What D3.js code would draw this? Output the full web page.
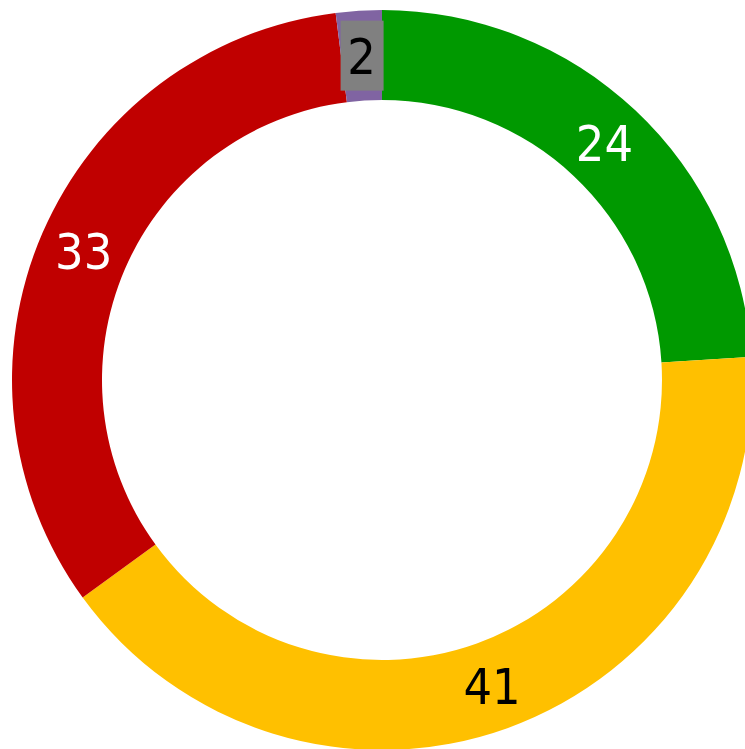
<!DOCTYPE html>
<html>
<head>
<meta charset="utf-8">
<script src="https://d3js.org/d3.v7.min.js"></script>
<style>
  html, body { margin: 0; padding: 0; background: #fff; overflow: hidden; }
  text { font-family: "DejaVu Sans Condensed", "DejaVu Sans", sans-serif; }
</style>
</head>
<body>
<div id="chart"></div>
<script>
// slice data, clockwise from 12 o'clock
var categories = ["A", "B", "C", "D"];
var values = [24, 41, 33, 2];
var colors = ["#009900", "#FFC000", "#C00000", "#8064A2"];
var labelColors = ["#ffffff", "#000000", "#ffffff", "#000000"];
var labelBoxes = [null, null, null, "#808080"];

var width = 745, height = 749;
var cx = 382, cy = 380;
var outerR = 370, innerR = 280;

var svg = d3.select("#chart").append("svg")
    .attr("width", width)
    .attr("height", height);

var g = svg.append("g")
    .attr("transform", "translate(" + cx + "," + cy + ")");

var data = categories.map(function (c, i) { return { key: c, value: values[i], i: i }; });

var pie = d3.pie()
    .value(function (d) { return d.value; })
    .sort(null);

var arc = d3.arc()
    .innerRadius(innerR)
    .outerRadius(outerR);

var arcs = pie(data);

g.selectAll("path")
  .data(arcs)
  .enter()
  .append("path")
    .attr("d", arc)
    .attr("fill", function (d) { return colors[d.data.i]; });

var labels = g.selectAll("g.lbl")
  .data(arcs)
  .enter()
  .append("g")
    .attr("class", "lbl")
    .attr("transform", function (d) {
      var c = arc.centroid(d);
      return "translate(" + c[0] + "," + c[1] + ")";
    });

// grey box behind the tiny slice label
labels.filter(function (d) { return labelBoxes[d.data.i]; })
  .append("rect")
    .attr("x", -21)
    .attr("y", -35)
    .attr("width", 43)
    .attr("height", 70)
    .attr("fill", function (d) { return labelBoxes[d.data.i]; });

labels.append("text")
    .attr("text-anchor", "middle")
    .attr("dy", "0.36em")
    .attr("font-size", 50)
    .attr("fill", function (d) { return labelColors[d.data.i]; })
    .text(function (d) { return d.data.value; });
</script>
</body>
</html>
